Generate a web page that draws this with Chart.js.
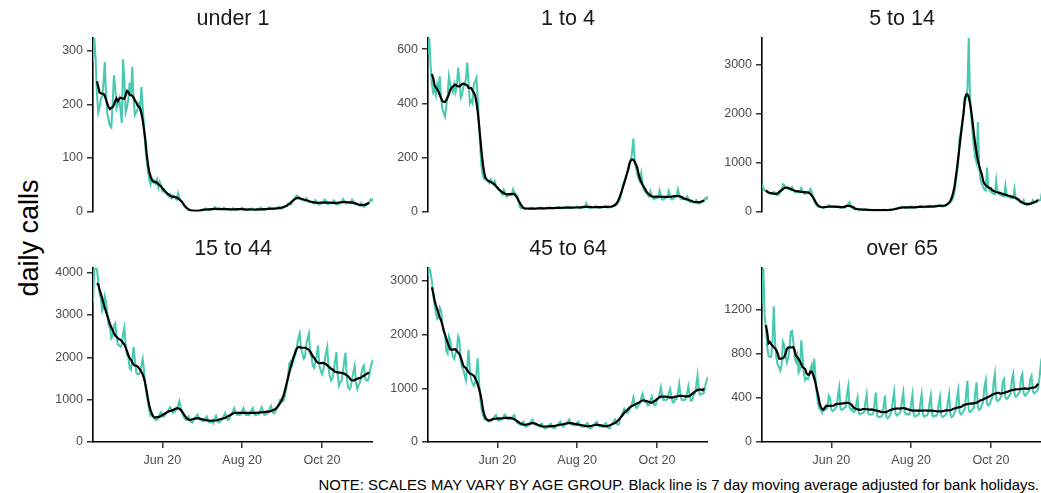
<!DOCTYPE html>
<html>
<head>
<meta charset="utf-8">
<script src="https://cdn.jsdelivr.net/npm/chart.js@4.4.1/dist/chart.umd.min.js"></script>
<style>
  body { margin: 0; background: #fff; }
  #wrap { position: relative; width: 1041px; height: 493px; overflow: hidden; font-family: "Liberation Sans", Arial, sans-serif; }
  canvas { position: absolute; }
  #ylab { position: absolute; left: 29px; top: 238px; font-size: 27px; line-height: 27px; color: #000;
          white-space: nowrap; transform: translate(-50%, -50%) rotate(-90deg); }
  #note { position: absolute; right: 2px; top: 478px; font-size: 14.9px; line-height: 14.9px; color: #000; white-space: nowrap; }
</style>
</head>
<body>
<div id="wrap">
  <div id="ylab">daily calls</div>
  <div id="note">NOTE: SCALES MAY VARY BY AGE GROUP. Black line is 7 day moving average adjusted for bank holidays.</div>
</div>
<script>
// first day of the series, one value per day after it
const firstDate = '2020-04-09';
const xTickDates = ['2020-06-01', '2020-08-01', '2020-10-01'];
const xTickLabels = ['Jun 20', 'Aug 20', 'Oct 20'];

const under1 = [
  280,324,285,220,185,195,210, 215,240,279,215,182,170,160, 157,200,254,230,192,200,210,
  190,165,284,245,185,195,210, 240,215,270,210,180,185,190, 200,190,232,195,160,120,95,
  75,60,50,62,55,58,52, 60,45,55,48,38,42,40, 35,30,28,32,25,30,27,
  24,22,34,25,20,18,14, 10,6,5,3,2,2,1, 1,2,2,1,1,1,2,
  3,4,6,5,3,2,3, 4,5,8,6,4,3,4, 5,4,7,5,3,4,4,
  4,3,6,5,3,3,4, 4,5,7,4,3,3,3, 3,4,6,5,3,2,3,
  3,4,7,5,3,3,4, 4,5,8,6,4,4,5, 5,6,9,7,5,6,8,
  9,11,15,14,13,16,20, 24,28,30,27,24,22,23, 21,20,25,22,18,17,18,
  16,15,21,18,14,13,15, 16,17,22,19,14,14,16, 15,16,21,18,13,13,14,
  17,18,23,20,15,15,17, 16,16,22,19,14,13,13, 12,11,16,13,9,10,12,
  14,16,22,20,24
];
const age1to4 = [
  580,642,540,470,440,455,430, 470,450,500,420,380,365,351, 390,430,500,470,450,440,470,
  440,460,532,490,420,430,460, 470,490,550,480,400,410,400, 470,480,494,420,330,230,160,
  130,120,125,115,110,105,118, 105,100,112,95,85,80,78, 68,62,80,70,55,58,60,
  62,60,82,70,65,60,50, 20,12,15,13,10,9,10, 10,11,14,12,9,9,10,
  11,12,15,13,10,10,11, 12,12,16,14,11,11,12, 13,14,17,15,12,12,13,
  14,14,18,16,13,12,14, 14,15,19,16,13,13,14, 15,16,30,18,14,13,15,
  15,16,20,17,14,14,15, 16,17,21,18,15,15,16, 17,18,24,22,24,30,38,
  50,70,100,110,120,140,150, 170,185,220,270,190,160,140, 120,110,140,100,80,72,70,
  60,55,75,60,48,45,50, 50,52,78,62,45,44,48, 52,53,76,60,46,45,50,
  55,58,82,62,48,46,48, 45,44,56,46,38,35,36, 33,33,42,36,30,30,34,
  38,40,50,46,58
];
const age5to14 = [
  560,480,430,420,400,380,360, 370,360,400,380,340,330,350, 390,430,560,540,480,470,490,
  460,440,500,450,400,390,400, 400,390,480,420,370,360,370, 380,400,460,400,300,200,150,
  120,100,90,95,80,75,80, 90,95,130,110,95,90,100, 95,90,115,100,80,75,85,
  80,85,110,150,190,120,70, 55,45,60,50,40,38,42, 38,35,45,38,30,28,30,
  28,27,35,30,24,23,25, 28,29,38,33,27,26,28, 30,32,45,45,50,55,65,
  75,78,100,90,76,75,78, 80,82,105,95,78,76,80, 88,92,120,108,90,86,88,
  95,96,125,110,92,90,95, 105,110,140,130,108,100,110, 115,120,160,170,190,220,280,
  400,550,800,1000,1500,1627,1850, 2000,2200,2350,2500,3555,2300,1900, 1600,1300,1100,1000,1833,900,650,
  560,500,450,430,900,480,430, 400,380,360,350,631,380,360, 340,330,320,310,528,320,300,
  290,280,270,270,460,260,240, 230,200,180,170,230,150,130, 130,140,150,160,230,180,190,
  200,220,230,240,412
];
const age15to44 = [
  3300,4050,4112,4080,3800,3500,3400, 3100,3200,3440,3300,3000,2750,2700, 2450,2500,2750,2800,2500,2300,2283,
  2250,2300,2550,2700,2250,2050,2000, 1750,1700,1900,2243,1950,1650,1600, 1600,1650,1800,1963,1700,1300,1150,
  950,750,620,650,600,560,520, 530,560,650,700,620,600,640, 680,700,780,820,760,690,700,
  740,780,860,966,820,700,620, 560,520,560,600,520,470,460, 530,560,620,650,560,520,510,
  490,500,560,600,500,460,470, 480,440,560,620,520,460,470, 520,540,620,680,580,520,530,
  640,660,740,800,700,640,650, 640,650,740,800,700,640,640, 640,660,740,800,700,630,640,
  650,660,750,820,720,640,650, 680,690,780,850,740,680,690, 760,800,900,1000,1000,960,1000,
  1150,1300,1550,1850,1900,1800,1900, 2000,2100,2300,2450,2562,2200,2100, 1963,2000,2300,2450,2562,2100,2000,
  1800,1750,1900,2050,2283,1800,1700, 1600,1700,1900,2100,2243,1750,1550, 1450,1500,1700,1900,2123,1600,1325,
  1400,1450,1650,1900,2107,1500,1300, 1245,1300,1500,1650,1800,1400,1250, 1350,1400,1600,1750,1804,1500,1450,
  1450,1550,1750,1850,1947
];
const age45to64 = [
  3100,3245,3139,3000,2750,2550,2400, 2300,2350,2506,2450,2200,2050,2000, 1700,1650,1968,1900,1700,1600,1550,
  1650,1700,1968,1900,1500,1400,1350, 1250,1150,1400,1715,1350,1150,1100, 1050,1100,1300,1557,1100,800,600,
  500,430,420,410,390,380,400, 400,420,480,500,430,400,410, 420,430,490,510,440,420,430,
  430,440,480,500,400,360,350, 330,320,360,380,300,280,290, 320,340,400,420,340,320,330,
  300,290,320,340,280,260,250, 280,290,320,340,290,260,260, 300,310,350,380,320,290,300,
  330,340,390,420,350,320,330, 310,310,360,380,320,290,290, 280,290,330,350,280,250,260,
  310,310,360,380,320,290,290, 280,290,330,350,280,255,255, 320,340,390,420,360,320,330,
  460,490,560,620,580,540,560, 620,640,720,829,700,640,640, 700,720,830,900,800,740,740,
  680,690,780,850,740,680,690, 780,800,900,1019,860,780,790, 780,800,900,987,850,740,740,
  790,800,920,1082,860,780,790, 780,800,910,1040,860,770,780, 880,900,1050,1240,950,880,900,
  900,920,1050,1150,1209
];
const over65 = [
  1250,1579,1150,1030,860,780,770, 770,900,1230,900,760,700,680, 647,700,908,880,780,720,760,
  850,1000,1006,900,760,724,780, 632,660,923,780,620,560,580, 570,600,650,700,620,755,560,
  420,340,300,290,264,300,290, 300,310,420,400,290,280,290, 300,320,420,494,300,290,300,
  310,320,440,509,310,290,300, 270,280,340,402,260,250,260, 260,270,360,430,260,250,250,
  250,260,350,448,240,225,230, 230,240,330,420,230,215,225, 250,270,380,454,260,240,250,
  260,280,380,450,270,250,260, 245,260,350,430,245,230,235, 245,255,350,430,250,230,240,
  240,260,350,420,250,230,240, 235,250,340,410,245,225,235, 240,260,360,432,250,225,235,
  265,280,400,470,270,250,260, 280,300,430,555,290,270,280, 300,310,450,540,310,290,300,
  340,360,500,560,350,330,340, 380,400,540,617,390,370,380, 395,420,545,570,405,390,400,
  420,440,570,617,430,410,420, 440,450,580,617,440,420,430, 450,460,570,601,460,440,450,
  460,480,580,693,600
];

const under1Ticks = [0, 100, 200, 300];
const age1to4Ticks = [0, 200, 400, 600];
const age5to14Ticks = [0, 1000, 2000, 3000];
const age15to44Ticks = [0, 1000, 2000, 3000, 4000];
const age45to64Ticks = [0, 1000, 2000, 3000];
const over65Ticks = [0, 400, 800, 1200];

const panels = [
  { title: 'under 1', values: under1, yTicks: under1Ticks },
  { title: '1 to 4', values: age1to4, yTicks: age1to4Ticks },
  { title: '5 to 14', values: age5to14, yTicks: age5to14Ticks },
  { title: '15 to 44', values: age15to44, yTicks: age15to44Ticks },
  { title: '45 to 64', values: age45to64, yTicks: age45to64Ticks },
  { title: 'over 65', values: over65, yTicks: over65Ticks }
];

const DAY = 86400000;
const xTickDays = xTickDates.map(d => (Date.parse(d) - Date.parse(firstDate)) / DAY);

// centred 7 day mean
function movingAverage(values) {
  const out = [];
  for (let i = 3; i < values.length - 3; i++) {
    let s = 0;
    for (let j = i - 3; j <= i + 3; j++) s += values[j];
    out.push({ x: i, y: s / 7 });
  }
  return out;
}

Chart.defaults.font.family = '"Liberation Sans", Arial, sans-serif';

const axisLeft = [93, 428, 762];
const rowTop = [2, 232];
const rowHeight = [221, 245];
const wrap = document.getElementById('wrap');

panels.forEach((p, k) => {
  const row = Math.floor(k / 3), col = k % 3;
  const bottomRow = row === 1;
  const canvas = document.createElement('canvas');
  canvas.width = 340;
  canvas.height = rowHeight[row];
  canvas.style.left = (axisLeft[col] - 60) + 'px';
  canvas.style.top = rowTop[row] + 'px';
  wrap.appendChild(canvas);

  new Chart(canvas.getContext('2d'), {
    type: 'line',
    data: {
      datasets: [
        {
          data: movingAverage(p.values),
          borderColor: '#000000',
          borderWidth: 2.2,
          pointRadius: 0,
          tension: 0
        },
        {
          data: p.values.map((v, i) => ({ x: i, y: v })),
          borderColor: '#48C9B0',
          borderWidth: 2,
          pointRadius: 0,
          tension: 0
        }
      ]
    },
    options: {
      responsive: false,
      animation: false,
      devicePixelRatio: 1,
      layout: { padding: 0 },
      events: [],
      plugins: {
        legend: { display: false },
        tooltip: { enabled: false },
        title: {
          display: true,
          text: p.title,
          fullSize: false,
          color: '#1A1A1A',
          font: { size: 21.5, weight: 'normal' },
          padding: { top: 4, bottom: 6 }
        }
      },
      scales: {
        x: {
          type: 'linear',
          min: 0,
          max: p.values.length - 1,
          afterFit: s => { s.height = bottomRow ? 35 : 10; },
          afterBuildTicks: s => { s.ticks = xTickDays.map(v => ({ value: v })); },
          border: { display: bottomRow, color: '#000', width: 1.6 },
          grid: { display: bottomRow, drawOnChartArea: false, tickLength: 6, color: '#333', lineWidth: 1.5 },
          ticks: {
            display: bottomRow,
            color: '#4D4D4D',
            font: { size: 12.5 },
            padding: 5,
            maxRotation: 0,
            callback: (v, i) => xTickLabels[i]
          }
        },
        y: {
          min: 0,
          max: Math.max(...p.values),
          afterFit: s => { s.width = 60; },
          afterBuildTicks: s => { s.ticks = p.yTicks.map(v => ({ value: v })); },
          border: { display: true, color: '#000', width: 1.6 },
          grid: { drawOnChartArea: false, tickLength: 6, color: '#333', lineWidth: 1.5 },
          ticks: {
            color: '#4D4D4D',
            font: { size: 12.5 },
            padding: 4,
            callback: v => String(v)
          }
        }
      }
    }
  });
});
</script>
</body>
</html>
